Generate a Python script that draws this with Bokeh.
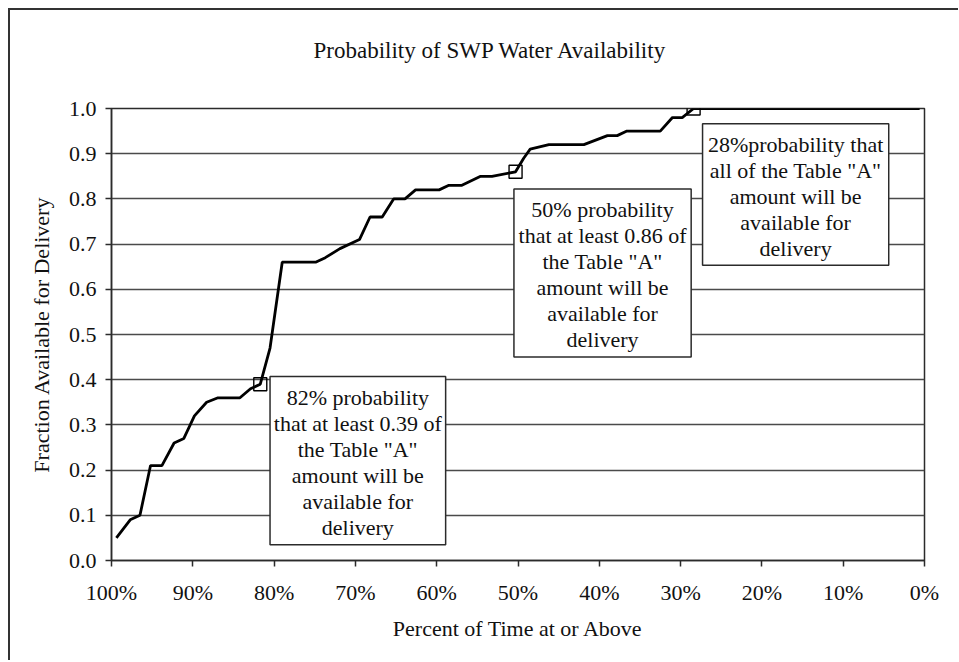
from bokeh.plotting import figure
from bokeh.models import Range1d, FixedTicker, PrintfTickFormatter
from bokeh.core.properties import value
from bokeh.embed import file_html
from bokeh.resources import INLINE

# ---- data ----
percent_time = [99.4, 97.7, 96.5, 95.2, 93.8, 92.3, 91.1, 89.8, 88.3, 86.9,
                84.2, 82.9, 81.7, 80.5, 79.0, 74.9, 73.7, 71.9, 69.5, 68.2,
                66.7, 65.3, 63.9, 62.6, 59.7, 58.5, 56.9, 54.6, 53.2, 50.3,
                49.3, 48.5, 46.2, 41.9, 39.0, 37.8, 36.6, 32.5, 31.0, 29.8,
                28.4, 0.6]
fraction = [0.05, 0.09, 0.10, 0.21, 0.21, 0.26, 0.27, 0.32, 0.35, 0.36,
            0.36, 0.38, 0.39, 0.47, 0.66, 0.66, 0.67, 0.69, 0.71, 0.76,
            0.76, 0.80, 0.80, 0.82, 0.82, 0.83, 0.83, 0.85, 0.85, 0.86,
            0.89, 0.91, 0.92, 0.92, 0.94, 0.94, 0.95, 0.95, 0.98, 0.98,
            1.00, 1.00]

marker_pct = [81.7, 50.3, 28.4]
marker_frac = [0.39, 0.86, 1.00]

x_ticks = [100, 90, 80, 70, 60, 50, 40, 30, 20, 10, 0]
y_ticks = [0.0, 0.1, 0.2, 0.3, 0.4, 0.5, 0.6, 0.7, 0.8, 0.9, 1.0]

title_text = "Probability of SWP Water Availability"

notes = [
    '82% probability\nthat at least 0.39 of\nthe Table "A"\namount will be\navailable for\ndelivery',
    '50% probability\nthat at least 0.86 of\nthe Table "A"\namount will be\navailable for\ndelivery',
    '28%probability that\nall of the Table "A"\namount will be\navailable for\ndelivery',
]

# annotation box layout (data coordinates)
note_left = [80.5, 50.5, 27.3]
note_right = [58.9, 28.7, 4.4]
note_top = [0.407, 0.822, 0.966]
note_bottom = [0.035, 0.450, 0.653]
note_cx = [(a + b) / 2 for a, b in zip(note_left, note_right)]
note_cy = [(a + b) / 2 - 0.004 for a, b in zip(note_top, note_bottom)]

FONT = "Liberation Serif"
DARK = "#2b2b2b"

p = figure(
    frame_width=813, frame_height=452,
    x_range=Range1d(100, 0), y_range=Range1d(0, 1.0),
    output_backend="svg", toolbar_location=None,
    min_border_left=103, min_border_top=100,
    min_border_right=34, min_border_bottom=100,
    title=title_text + "\n",   # trailing blank line lifts the title upward
)
p.styles = {"margin-left": "8px", "margin-top": "8px",
            "box-shadow": "inset 2px 2px 0 0 #333"}
p.border_fill_color = None
p.background_fill_color = "white"
p.outline_line_color = DARK
p.outline_line_width = 1.5

p.title.text_font = FONT
p.title.text_font_size = "23px"
p.title.text_font_style = "normal"
p.title.text_color = "#111"
p.title.align = "left"
p.title.offset = 202
p.title.standoff = 42

p.xaxis.ticker = FixedTicker(ticks=x_ticks)
p.xaxis.formatter = PrintfTickFormatter(format="%d%%")
p.yaxis.ticker = FixedTicker(ticks=y_ticks)
p.yaxis.formatter = PrintfTickFormatter(format="%.1f")
p.xaxis.axis_label = "Percent of Time at or Above"
p.yaxis.axis_label = "Fraction Available for Delivery"

for ax in (p.xaxis, p.yaxis):
    ax.axis_label_text_font = FONT
    ax.axis_label_text_font_size = "22px"
    ax.axis_label_text_font_style = "normal"
    ax.axis_label_text_color = "#111"
    ax.major_label_text_font = FONT
    ax.major_label_text_font_size = "22px"
    ax.major_label_text_color = "#111"
    ax.axis_line_color = DARK
    ax.axis_line_width = 1.5
    ax.major_tick_line_color = DARK
    ax.major_tick_line_width = 1.5
    ax.major_tick_out = 6
    ax.major_tick_in = 0
    ax.minor_tick_line_color = None

p.xaxis.major_label_standoff = 13
p.xaxis.axis_label_standoff = 8
p.yaxis.major_label_standoff = 9
p.yaxis.axis_label_standoff = 12

p.xgrid.grid_line_color = None
p.ygrid.grid_line_color = "#4a4a4a"
p.ygrid.grid_line_width = 1.4

p.quad(left=note_left, right=note_right, top=note_top, bottom=note_bottom,
       fill_color="white", line_color=DARK, line_width=1.5)

p.line(percent_time, fraction, line_color="black", line_width=2.8)
p.scatter(marker_pct, marker_frac, marker="square", size=13,
          fill_color=None, line_color="black", line_width=1.4)

p.text(x=note_cx, y=note_cy, text=notes, text_align="center",
       text_baseline="middle", text_font=value(FONT), text_font_size="22px",
       text_line_height=1.04, text_color="#111")

open("out.html", "w").write(file_html(p, INLINE))
